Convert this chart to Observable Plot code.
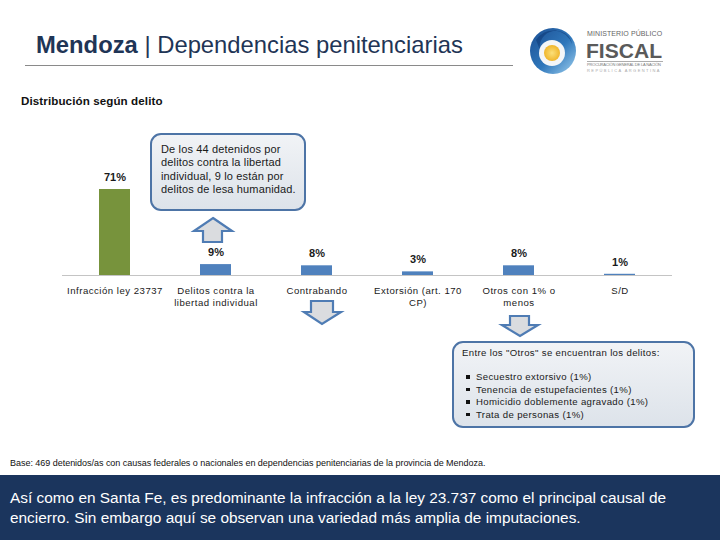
<!DOCTYPE html>
<html>
<head>
<meta charset="utf-8">
<script src="https://cdn.jsdelivr.net/npm/d3@7"></script>
<script src="https://cdn.jsdelivr.net/npm/@observablehq/plot@0.6"></script>
<style>
  html, body { margin: 0; padding: 0; background: #fff; }
  #page { position: relative; width: 720px; height: 540px; overflow: hidden; font-family: "Liberation Sans", Arial, sans-serif; }
  #chart { position: absolute; left: 0; top: 0; }
  .abs { position: absolute; }
  #title { left: 36px; top: 31px; font-size: 23.8px; line-height: 28px; color: #1f3556; white-space: nowrap; }
  #title b { font-weight: bold; }
  #titleRule { left: 25px; top: 65px; width: 488px; height: 1px; background: #8a8a8a; }
  #subtitle { left: 21px; top: 94px; font-size: 11.6px; font-weight: bold; color: #111; letter-spacing: 0.1px; }
  .callout { border: 2.5px solid #4d74a6; border-radius: 11px; background: linear-gradient(#f1f3f6, #dde3ea); box-sizing: border-box; color: #1a1a1a; }
  #box1 { left: 150px; top: 133px; width: 156px; height: 78px; font-size: 11px; line-height: 13.3px; padding: 8px 0 0 9px; letter-spacing: 0.15px; }
  #box2 { left: 452px; top: 341px; width: 243px; height: 87px; font-size: 9.6px; letter-spacing: 0.35px; padding: 4px 0 0 8px; }
  #box2 ul { margin: 13px 0 0 0; padding: 0 0 0 14px; list-style: none; }
  #box2 li { position: relative; line-height: 12.6px; }
  #box2 li::before { content: ""; position: absolute; left: -10px; top: 4px; width: 3.5px; height: 3.5px; background: #111; }
  #base { left: 10px; top: 458px; font-size: 9px; color: #111; white-space: nowrap; letter-spacing: -0.03px; }
  #band { left: 0; top: 475px; width: 720px; height: 65px; background: #1b355d; color: #fff; font-size: 15.4px; line-height: 20px; padding: 13px 0 0 10px; box-sizing: border-box; }
</style>
</head>
<body>
<div id="page">
  <div id="chart"></div>
  <div id="title" class="abs"><b>Mendoza</b> | Dependencias penitenciarias</div>
  <div id="titleRule" class="abs"></div>
  <svg class="abs" style="left:0;top:0" width="720" height="540" id="overlay">
    <defs>
      <linearGradient id="ring" x1="0" y1="0" x2="1" y2="1">
        <stop offset="0" stop-color="#1c4f93"/>
        <stop offset="0.55" stop-color="#2f77bb"/>
        <stop offset="1" stop-color="#9fd0ef"/>
      </linearGradient>
      <radialGradient id="sun" cx="0.5" cy="0.5" r="0.5">
        <stop offset="0" stop-color="#fbe07a"/>
        <stop offset="1" stop-color="#f0b62c"/>
      </radialGradient>
    </defs>
    <!-- logo -->
    <circle cx="553" cy="51" r="23" fill="url(#ring)"/>
    <path d="M536 40 A20 20 0 0 1 572 44 A16 16 0 0 0 540 50 Z" fill="#0f3a78" opacity="0.6"/>
    <circle cx="552" cy="53" r="13" fill="#f4f6f8"/>
    <circle cx="552" cy="53" r="8" fill="url(#sun)"/>
    <text x="587" y="35.5" font-size="7" fill="#666" font-family="Liberation Sans, Arial" letter-spacing="0.1">MINISTERIO PÚBLICO</text>
    <text x="586" y="58" font-size="21" font-weight="bold" fill="#5a5a5a" font-family="Liberation Sans, Arial" textLength="76" lengthAdjust="spacingAndGlyphs">FISCAL</text>
    <rect x="587" y="61" width="76" height="0.8" fill="#999"/>
    <text x="587" y="66" font-size="4" fill="#777" font-family="Liberation Sans, Arial" textLength="74">PROCURACIÓN GENERAL DE LA NACIÓN</text>
    <text x="587" y="72" font-size="4" fill="#aaa" font-family="Liberation Sans, Arial" textLength="74" letter-spacing="1.5">REPÚBLICA ARGENTINA</text>
    <!-- arrows -->
    <g fill="#dadcdf" stroke="#4f7cb4" stroke-width="2.2" stroke-linejoin="miter">
      <path d="M213 218 L232 231 L222 231 L222 242 L203 242 L203 231 L194 231 Z"/>
      <path d="M311 301 L333 301 L333 312 L341 312 L322 324 L304 312 L311 312 Z"/>
      <path d="M510 316 L529 316 L529 325 L538 325 L520 336 L502 325 L510 325 Z"/>
    </g>
  </svg>
  <div id="subtitle" class="abs">Distribución según delito</div>
  <div id="box1" class="abs callout">De los 44 detenidos por<br>delitos contra la libertad<br>individual, 9 lo están por<br>delitos de lesa humanidad.</div>
  <div id="box2" class="abs callout">Entre los "Otros" se encuentran los delitos:
    <ul>
      <li>Secuestro extorsivo (1%)</li>
      <li>Tenencia de estupefacientes (1%)</li>
      <li>Homicidio doblemente agravado (1%)</li>
      <li>Trata de personas (1%)</li>
    </ul>
  </div>
  <div id="base" class="abs">Base: 469 detenidos/as con causas federales o nacionales en dependencias penitenciarias de la provincia de Mendoza.</div>
  <div id="band" class="abs">Así como en Santa Fe, es predominante la infracción a la ley 23.737 como el principal causal de<br>encierro. Sin embargo aquí se observan una variedad más amplia de imputaciones.</div>
</div>
<script>
const categories = ["Infracción ley 23737", "Delitos contra la libertad individual", "Contrabando", "Extorsión (art. 170 CP)", "Otros con 1% o menos", "S/D"];
const tickLabels = ["Infracción ley 23737", "Delitos contra la\nlibertad individual", "Contrabando", "Extorsión (art. 170\nCP)", "Otros con 1% o\nmenos", "S/D"];
const values = [71, 9, 8, 3, 8, 1];
const valueLabels = ["71%", "9%", "8%", "3%", "8%", "1%"];
const barColors = ["#77933c", "#4f81bd", "#4f81bd", "#4f81bd", "#4f81bd", "#4f81bd"];

const data = categories.map((c, i) => ({cat: c, value: values[i], label: valueLabels[i], tick: tickLabels[i], color: barColors[i]}));

const chart = Plot.plot({
  width: 720,
  height: 475,
  marginTop: 189,
  marginBottom: 200,
  marginLeft: 62,
  marginRight: 48,
  style: {background: "transparent", fontFamily: "Liberation Sans, Arial, sans-serif"},
  x: {domain: categories, paddingInner: 0.69, paddingOuter: 0.345, axis: null},
  y: {domain: [0, 71], axis: null},
  marks: [
    Plot.barY(data, {x: "cat", y: "value", fill: d => d.color}),
    Plot.ruleY([0], {stroke: "#c4c4c4", strokeWidth: 1}),
    Plot.text(data, {x: "cat", y: "value", text: "label", dy: -12, fontWeight: "bold", fontSize: 11, fill: "#1a1a1a"}),
    Plot.text(data, {x: "cat", y: 0, text: "tick", lineAnchor: "top", dy: 10, fontSize: 9.6, fill: "#1a1a1a", lineHeight: 1.25})
  ]
});
document.getElementById("chart").appendChild(chart);
// letter spacing for the category labels
chart.querySelectorAll("g[font-size='9.6']").forEach(g => g.setAttribute("letter-spacing", "0.5"));
</script>
</body>
</html>
